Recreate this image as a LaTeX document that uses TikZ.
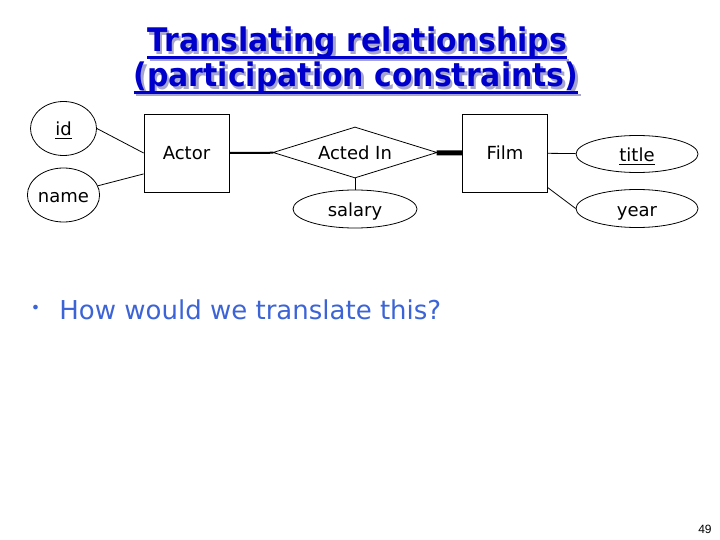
\documentclass[tikz,border=0pt]{standalone}
\usepackage{fontspec}
\setmainfont{DejaVu Sans}
\newfontfamily\titlefont[FakeStretch=0.92]{DejaVu Sans}
\newfontfamily\numfont{Liberation Sans}
\usetikzlibrary{shapes.geometric}
\definecolor{titleblue}{RGB}{0,0,204}
\definecolor{shadowblue}{RGB}{165,165,205}
\definecolor{bodyblue}{RGB}{60,100,215}
\newcommand\headul[1]{\setbox0\hbox{#1}\rlap{\rule[-7pt]{\wd0}{2.5pt}}\box0}
\newcommand\keyul[1]{\setbox0\hbox{#1}\rlap{\rule[-3.5pt]{\wd0}{1.3pt}}\box0}
\newcommand\shadowed[1]{\rlap{\hspace{2.5pt}\raisebox{-2.5pt}{\color{shadowblue}#1}}#1}

\begin{document}
\begin{tikzpicture}[x=1pt, y=-1pt, line width=0.8pt,
    font=\fontsize{18}{21}\selectfont,
    attr/.style={ellipse, draw, inner sep=0pt, text height=15pt, text depth=0pt},
    entity/.style={rectangle, draw, minimum width=85pt, minimum height=78pt},
    heading/.style={anchor=base, inner sep=0pt, text=titleblue, font=\titlefont\bfseries\fontsize{32.5}{35}\selectfont}]
    \useasboundingbox (0,0) rectangle (720,540);
    %title with shadow
    \node[heading] at (357,52) (Title1){ \shadowed{\headul{Translating relationships}} };
    \node[heading] at (356,87) (Title2){ \shadowed{\headul{(participation constraints)}} };
    %ER diagram
    \node[attr, minimum width=66pt, minimum height=54pt] at (63.5,128.5) (id){ \keyul{id} };
    \node[attr, minimum width=66pt, minimum height=54pt] at (63.5,195) (name){ name };
    \node[entity] at (186.5,153) (Actor){ Actor };
    \node[diamond, draw, aspect=3.2, minimum width=164pt, minimum height=51pt, inner sep=0pt] at (355,152.5) (AI){ Acted In };
    \node[entity] at (505,153) (Film){ Film };
    \node[attr, minimum width=122pt, minimum height=37pt] at (637,154) (title){ \keyul{title} };
    \node[attr, minimum width=122pt, minimum height=38pt] at (637,208.5) (year){ year };
    \node[attr, minimum width=124pt, minimum height=38pt] at (355,209) (salary){ salary };
    \draw (id.east) -- (Actor.west);
    \draw (name.15) -- (Actor.206);
    \draw[line width=2pt] (Actor) -- (AI);
    \draw[line width=5pt] (AI) -- (Film);
    \draw (AI) -- (salary);
    \draw (Film) -- (title);
    \draw (Film.321) -- (year.west);
    %question
    \node[text=bodyblue, font=\fontsize{16}{18}\selectfont] at (35.5,309) (bullet){ • };
    \node[text=bodyblue, font=\fontsize{26}{31}\selectfont, anchor=base west, inner sep=0pt] at (59,319) (Q){How would we translate this?};
    \node[font=\numfont\fontsize{12}{14}\selectfont, anchor=base east, inner sep=0pt] at (712,533) (page){49};
\end{tikzpicture}
\end{document}
